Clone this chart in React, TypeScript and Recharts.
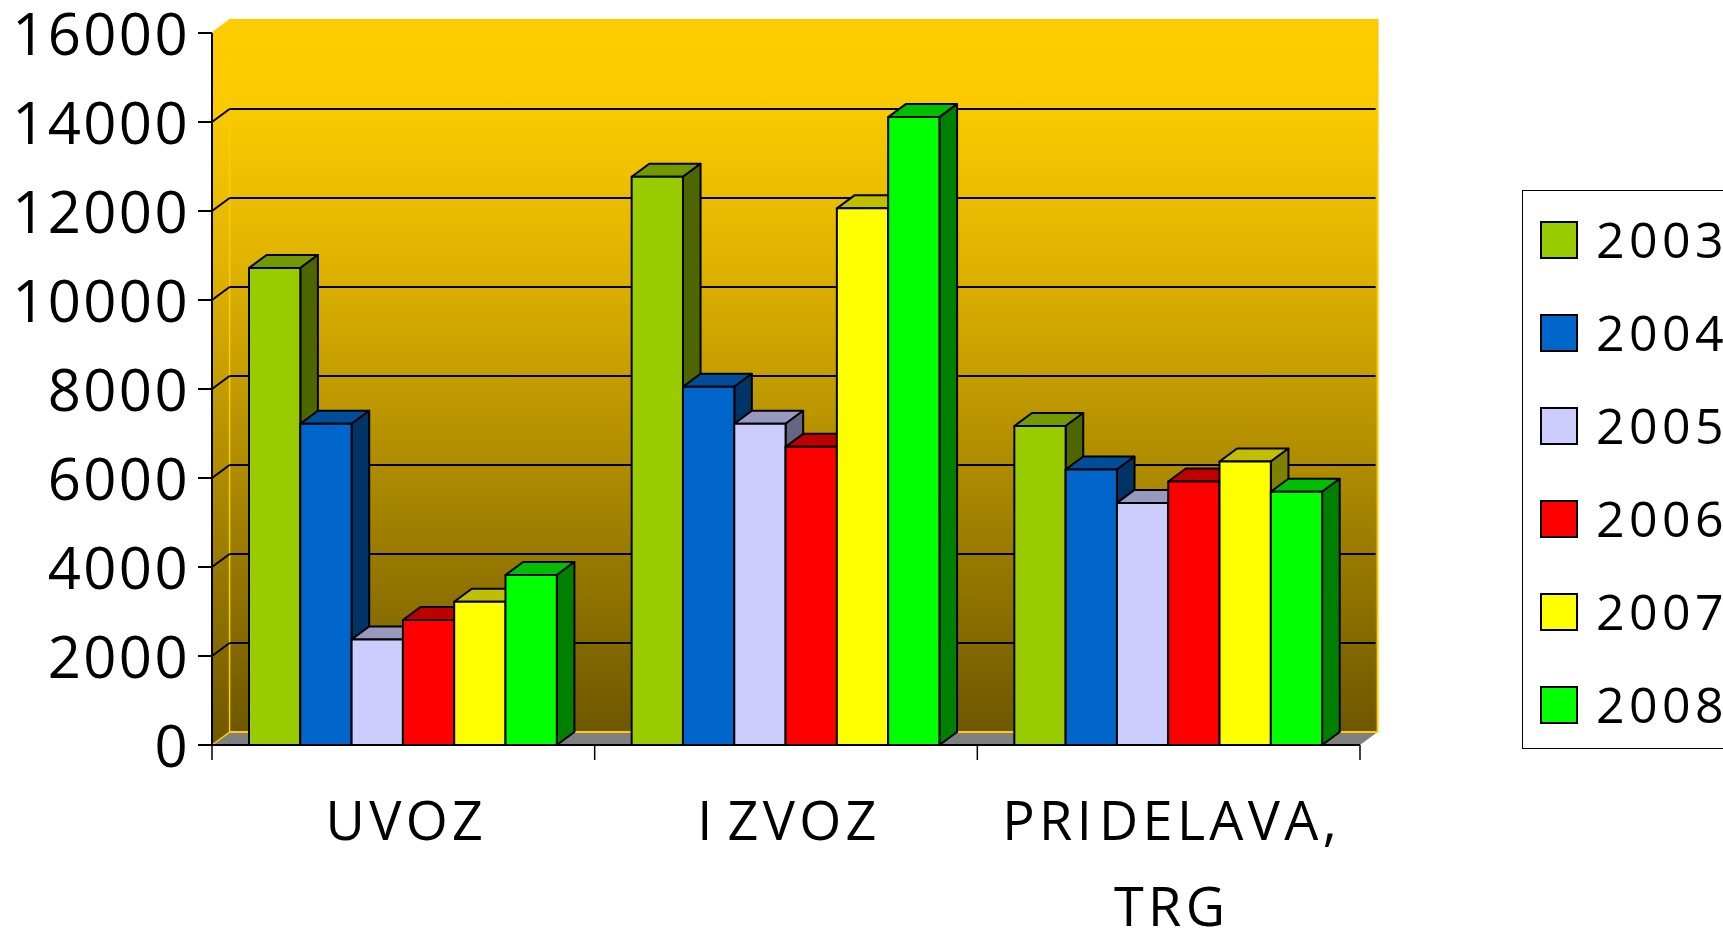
import React from 'react';
import { BarChart, Bar, XAxis, YAxis, Legend, usePlotArea } from 'recharts';

const categories = ['UVOZ', 'IZVOZ', 'PRIDELAVA,|TRG'];
const yTicks = [0, 2000, 4000, 6000, 8000, 10000, 12000, 14000, 16000];
const seriesNames = ['2003', '2004', '2005', '2006', '2007', '2008'];
const seriesFronts = ['#99CC00', '#0066CC', '#CCCCFF', '#FF0000', '#FFFF00', '#00FF00'];
const seriesTops = ['#739900', '#004D99', '#9999BF', '#BF0000', '#BFBF00', '#00BF00'];
const seriesSides = ['#4D6600', '#003366', '#666680', '#800000', '#808000', '#008000'];
const v2003 = [10720, 12770, 7170];
const v2004 = [7220, 8050, 6190];
const v2005 = [2370, 7220, 5440];
const v2006 = [2810, 6700, 5920];
const v2007 = [3220, 12060, 6370];
const v2008 = [3820, 14110, 5690];
const seriesValues = [v2003, v2004, v2005, v2006, v2007, v2008];

const rows = categories.map((name, i) => {
  const row: Record<string, any> = { name };
  seriesNames.forEach((s, j) => { row[s] = seriesValues[j][i]; });
  return row;
});

const DX = 17.6;
const DY = 13;
const FONT = '"Open Sans", "Noto Sans", sans-serif';

function Backdrop() {
  const area = usePlotArea();
  if (!area) return null;
  const { x, y, width, height } = area;
  const b = y + height;
  const r = x + width;
  const step = height / (yTicks.length - 1);
  return (
    <g>
      <defs>
        <linearGradient id="wall" x1="0" y1="0" x2="0" y2="1">
          <stop offset="0" stopColor="#FFCC00" />
          <stop offset="0.12" stopColor="#FACA00" />
          <stop offset="0.34" stopColor="#E0B300" />
          <stop offset="1" stopColor="#6E5800" />
        </linearGradient>
      </defs>
      <rect x={x + DX} y={y - DY} width={width} height={height} fill="url(#wall)" />
      <polygon points={`${x},${y} ${x + DX},${y - DY} ${x + DX},${b - DY} ${x},${b}`} fill="url(#wall)" />
      <polygon points={`${x},${b} ${r},${b} ${r + DX},${b - DY} ${x + DX},${b - DY}`} fill="#808080" />
      <polyline
        points={`${x},${y} ${x + DX},${y - DY} ${x + DX},${b - DY} ${x},${b}`}
        fill="none" stroke="#FFCC00" strokeWidth={1.5}
      />
      <polyline
        points={`${x + DX},${y - DY} ${r + DX},${y - DY} ${r + DX},${b - DY} ${x + DX},${b - DY}`}
        fill="none" stroke="#FFCC00" strokeWidth={2}
      />
      {yTicks.slice(1, -1).map((t, i) => {
        const ly = b - step * (i + 1);
        return (
          <g key={t} stroke="#000" strokeWidth={2}>
            <line x1={x} y1={ly} x2={x + DX} y2={ly - DY} />
            <line x1={x + DX} y1={ly - DY} x2={r + DX - 2} y2={ly - DY} />
          </g>
        );
      })}
      {categories.map((c, i) => (
        <line key={c} x1={x + (width * i) / categories.length} y1={b} x2={x + (width * i) / categories.length} y2={b + 15} stroke="#000" strokeWidth={1.5} />
      ))}
      <line x1={r} y1={b} x2={r} y2={b + 15} stroke="#000" strokeWidth={1.5} />
    </g>
  );
}

function Box3D(props: any) {
  const { x, y, width, height, index3d } = props;
  const front = seriesFronts[index3d];
  const top = seriesTops[index3d];
  const side = seriesSides[index3d];
  return (
    <g stroke="#000" strokeWidth={2} strokeLinejoin="round">
      <polygon points={`${x},${y} ${x + width},${y} ${x + width + DX},${y - DY} ${x + DX},${y - DY}`} fill={top} />
      <polygon points={`${x + width},${y} ${x + width + DX},${y - DY} ${x + width + DX},${y + height - DY} ${x + width},${y + height}`} fill={side} />
      <rect x={x} y={y} width={width} height={height} fill={front} />
    </g>
  );
}

function CategoryTick(props: any) {
  const { x, y, payload } = props;
  const lines = String(payload.value).split('|');
  return (
    <g>
      {lines.map((l: string, i: number) => {
        const cut = l.indexOf('I');
        const gap = cut === 0 ? 11 : 3;
        return (
          <text key={l} x={x + 3} y={y + 87 + i * 86} textAnchor="middle" fontFamily={FONT} fontSize={54} letterSpacing={4.3} fill="#000">
            {cut >= 0 ? (
              <>
                <tspan>{l.slice(0, cut + 1)}</tspan>
                <tspan dx={gap}>{l.slice(cut + 1)}</tspan>
              </>
            ) : l}
          </text>
        );
      })}
    </g>
  );
}

function ValueTick(props: any) {
  const { x, y, payload } = props;
  return (
    <text x={x + 5} y={y + 22} textAnchor="end" fontFamily={FONT} fontSize={58} letterSpacing={2.4} fill="#000">
      {payload.value}
    </text>
  );
}

function LegendBox() {
  return (
    <div style={{ width: 240, height: 559, boxSizing: 'border-box', border: '1.5px solid #000', background: '#fff', position: 'relative' }}>
      {seriesNames.map((s, i) => (
        <div key={s} style={{ position: 'absolute', left: 0, top: 30 + i * 93, height: 38, display: 'flex', alignItems: 'center' }}>
          <span style={{ position: 'absolute', left: 17, top: 0, width: 38, height: 38, boxSizing: 'border-box', border: '2px solid #000', background: seriesFronts[i] }} />
          <span style={{ position: 'absolute', left: 73, top: -15, fontFamily: FONT, fontSize: 50, lineHeight: '66px', letterSpacing: 4.4, color: '#000', whiteSpace: 'nowrap' }}>{s}</span>
        </div>
      ))}
    </div>
  );
}

export default function App() {
  return (
    <div style={{ position: 'fixed', left: 0, top: 0, width: 1723, height: 930, overflow: 'hidden', background: '#fff' }}>
      <BarChart
        width={1723}
        height={930}
        data={rows}
        margin={{ top: 33, right: 363, bottom: 0, left: 0 }}
        barCategoryGap="9.8%"
        barGap={0}
        barSize={51.3}
      >
        <Backdrop />
        <XAxis dataKey="name" height={185} axisLine={{ stroke: '#000', strokeWidth: 2 }} tickLine={false} tick={<CategoryTick />} interval={0} />
        <YAxis
          width={212}
          domain={[0, 16000]}
          ticks={yTicks}
          interval={0}
          axisLine={{ stroke: '#000', strokeWidth: 2 }}
          tickLine={{ stroke: '#000', strokeWidth: 2 }}
          tickSize={14}
          tickMargin={13}
          tick={<ValueTick />}
        />
        {seriesNames.map((s, i) => (
          <Bar key={s} dataKey={s} isAnimationActive={false} shape={(p: any) => <Box3D {...p} index3d={i} />} />
        ))}
        <Legend
          layout="vertical"
          align="center"
          verticalAlign="middle"
          content={<LegendBox />}
          wrapperStyle={{ position: 'absolute', left: 1522, top: 190, width: 240, height: 559, margin: 0, transform: 'none' }}
        />
      </BarChart>
    </div>
  );
}
